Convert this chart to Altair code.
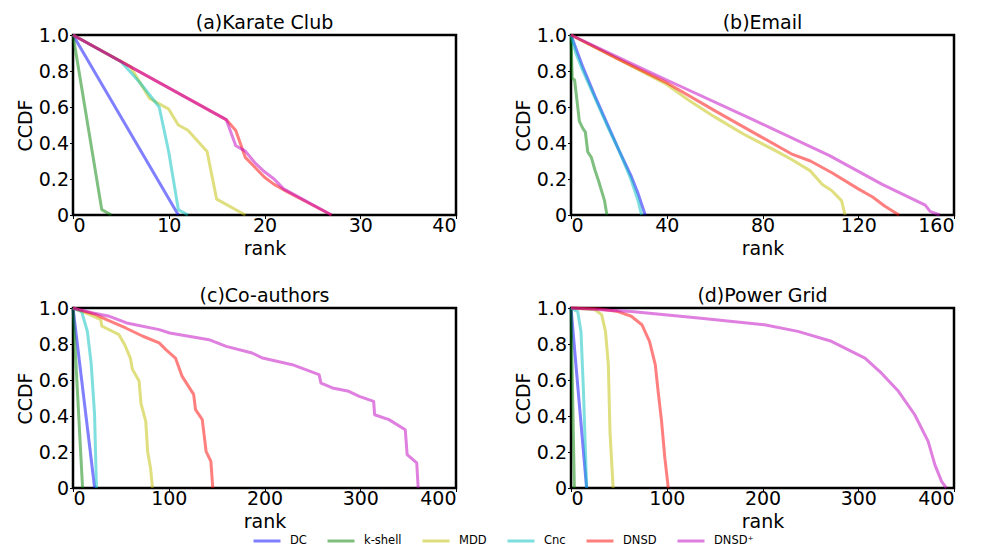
import altair as alt
import pandas as pd

SERIES = ["DC", "k-shell", "MDD", "Cnc", "DNSD", "DNSD\u207a"]
COLORS = ["#0000ff", "#008000", "#bfbf00", "#00bfbf", "#ff0000", "#bf00bf"]

Y_TICKS = [0, 0.2, 0.4, 0.6, 0.8, 1.0]

# (a) Karate Club
KARATE_XTICKS = [0, 10, 20, 30, 40]
KARATE = {
    "DC": [(0, 1.0), (11, 0.0)],
    "k-shell": [(0, 1.0), (3, 0.03), (4, 0.0)],
    "MDD": [(0, 1.0), (6, 0.824), (8, 0.647), (9, 0.618), (10, 0.588), (11, 0.5),
            (12, 0.471), (14, 0.353), (15, 0.088), (18, 0.0)],
    "Cnc": [(0, 1.0), (5, 0.853), (7, 0.735), (9, 0.6), (10, 0.35), (11, 0.03), (12, 0.0)],
    "DNSD": [(0, 1.0), (16, 0.53), (17, 0.47), (18, 0.32), (19, 0.265), (20, 0.21),
             (21, 0.17), (22, 0.14), (27, 0.0)],
    "DNSD\u207a": [(0, 1.0), (16, 0.53), (17, 0.385), (18, 0.355), (19, 0.29), (20, 0.24),
                   (21, 0.2), (22, 0.145), (27, 0.0)],
}

# (b) Email
EMAIL_XTICKS = [0, 40, 80, 120, 160]
EMAIL = {
    "DC": [(0, 1.0), (5, 0.82), (10, 0.66), (15, 0.51), (20, 0.36), (25, 0.22), (28, 0.12), (31, 0.0)],
    "k-shell": [(0, 1.0), (0.5, 0.76), (1.5, 0.75), (3.5, 0.52), (5, 0.48), (6, 0.46), (7, 0.35),
                (8.5, 0.32), (10, 0.25), (11.5, 0.19), (14, 0.08), (15, 0.0)],
    "MDD": [(0, 1.0), (20, 0.865), (40, 0.725), (50, 0.63), (60, 0.545), (72, 0.45), (85, 0.36),
            (92, 0.31), (100, 0.245), (105, 0.17), (109, 0.135), (113, 0.08), (114.5, 0.0)],
    "Cnc": [(0, 1.0), (2, 0.9), (5, 0.8), (10, 0.65), (15, 0.5), (20, 0.36), (25, 0.2),
            (28, 0.08), (29.5, 0.0)],
    "DNSD": [(0, 1.0), (20, 0.865), (40, 0.735), (60, 0.58), (80, 0.43), (92, 0.34), (100, 0.30),
             (109, 0.235), (120, 0.145), (126, 0.1), (131, 0.05), (137, 0.0)],
    "DNSD\u207a": [(0, 1.0), (40, 0.75), (76, 0.53), (108, 0.33), (130, 0.17), (148, 0.055),
                   (150, 0.02), (154, 0.0)],
}

# (c) Co-authors
COAUTH_XTICKS = [0, 100, 200, 300, 400]
COAUTH = {
    "DC": [(0, 1.0), (22.6, 0.0)],
    "k-shell": [(0, 1.0), (10, 0.0)],
    "MDD": [(0, 1.0), (17, 0.965), (29, 0.935), (30, 0.9), (48, 0.852), (54, 0.796), (60, 0.72),
            (62, 0.66), (69, 0.595), (71, 0.47), (76, 0.37), (78, 0.2), (81, 0.11), (83, 0.0)],
    "Cnc": [(0, 1.0), (9, 0.98), (15, 0.87), (19, 0.69), (22.5, 0.41), (24.5, 0.0)],
    "DNSD": [(0, 1.0), (24, 0.963), (35, 0.935), (55, 0.889), (73, 0.843), (90, 0.806),
             (97, 0.769), (107, 0.722), (114, 0.62), (126, 0.52), (128, 0.435), (135, 0.38),
             (139, 0.204), (144, 0.148), (146, 0.0)],
    "DNSD\u207a": [(0, 1.0), (21, 0.972), (38, 0.954), (56, 0.917), (90, 0.88), (101, 0.861),
                   (142, 0.824), (160, 0.787), (187, 0.75), (198, 0.722), (229, 0.685),
                   (257, 0.63), (259, 0.583), (271, 0.556), (288, 0.537), (299, 0.509),
                   (314, 0.481), (315, 0.407), (330, 0.38), (347, 0.324), (349, 0.185),
                   (359, 0.139), (360.5, 0.0)],
}

# (d) Power Grid
POWER_XTICKS = [0, 100, 200, 300, 400]
POWER = {
    "DC": [(0, 1.0), (16.3, 0.0)],
    "k-shell": [(0, 1.0), (3.5, 0.0)],
    "MDD": [(0, 1.0), (25, 0.99), (32, 0.963), (36, 0.87), (39, 0.685), (40.7, 0.315), (44, 0.0)],
    "Cnc": [(0, 1.0), (7, 0.98), (10.4, 0.87), (13, 0.54), (16.3, 0.0)],
    "DNSD": [(0, 1.0), (28, 0.996), (49, 0.98), (63, 0.954), (74, 0.907), (82, 0.815),
             (88, 0.685), (91, 0.537), (94.6, 0.37), (98, 0.167), (101.6, 0.0)],
    "DNSD\u207a": [(0, 1.0), (63, 0.98), (133, 0.944), (202, 0.907), (237, 0.87), (272, 0.815),
                   (307, 0.722), (324, 0.639), (342, 0.537), (359, 0.407), (373, 0.259),
                   (380, 0.13), (387, 0.037), (392, 0.0)],
}

FONT = "DejaVu Sans"
FS = 19


def panel(title, data, xticks):
    rows = []
    for s in SERIES:
        for i, (x, y) in enumerate(data[s]):
            rows.append({"series": s, "rank": x, "ccdf": y, "i": i})
    df = pd.DataFrame(rows)
    layers = []
    for s in SERIES:
        layers.append(
            alt.Chart(df)
            .transform_filter(alt.datum.series == s)
            .mark_line(strokeWidth=3, strokeOpacity=0.5, strokeJoin="round", strokeCap="butt")
            .encode(
                x=alt.X("rank:Q",
                        scale=alt.Scale(domain=[xticks[0], xticks[-1]], nice=False, zero=False),
                        axis=alt.Axis(values=xticks, title="rank", format="d",
                                      labelPadding=-2, titlePadding=4)),
                y=alt.Y("ccdf:Q",
                        scale=alt.Scale(domain=[0, 1], nice=False),
                        axis=alt.Axis(values=Y_TICKS, title="CCDF", titlePadding=3, labelPadding=1,
                                      labelExpr="datum.value == 0 ? '0' : format(datum.value, '.1f')")),
                color=alt.Color("series:N",
                                scale=alt.Scale(domain=SERIES, range=COLORS),
                                legend=alt.Legend(
                                    orient="none", legendX=179, legendY=491,
                                    direction="horizontal", title=None,
                                    symbolType="stroke", symbolSize=729,
                                    symbolStrokeWidth=3, symbolOpacity=0.5,
                                    labelFont=FONT, labelFontSize=11.5, labelColor="black",
                                    labelOffset=8, columnPadding=14)),
                order=alt.Order("i:Q"),
            )
        )
    return alt.layer(*layers).properties(
        width=383, height=180,
        title=alt.TitleParams(title, fontSize=FS, font=FONT, fontWeight="normal",
                              color="black", offset=-7, frame="group"),
    )


chart = alt.concat(
    panel("(a)Karate Club", KARATE, KARATE_XTICKS),
    panel("(b)Email", EMAIL, EMAIL_XTICKS),
    panel("(c)Co-authors", COAUTH, COAUTH_XTICKS),
    panel("(d)Power Grid", POWER, POWER_XTICKS),
    columns=2,
    spacing={"row": 25, "column": 55},
).configure_view(
    stroke="black", strokeWidth=2.5
).configure_axis(
    labelFont=FONT, titleFont=FONT, labelFontSize=FS, titleFontSize=FS,
    titleFontWeight="normal", labelColor="black", titleColor="black",
    domain=False, grid=False, tickColor="black", tickSize=3.5, tickWidth=1,
).properties(
    padding={"left": 7, "top": 4, "right": 5, "bottom": 0}
)

chart.save("out.html", embed_options={"renderer": "svg", "actions": False})
